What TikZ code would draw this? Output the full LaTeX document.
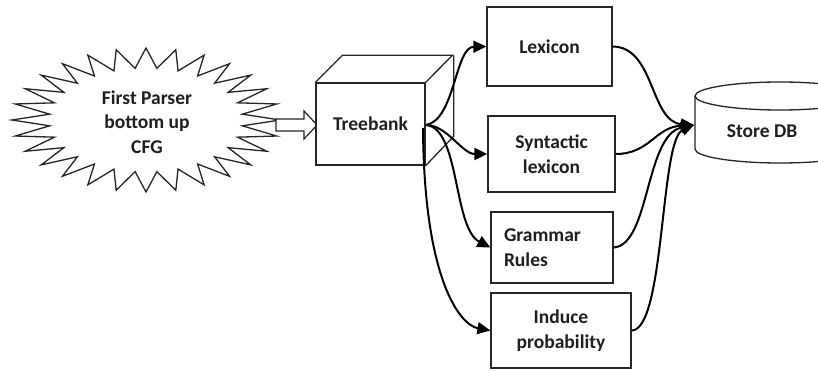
\documentclass[tikz,border=0pt]{standalone}
\usepackage{fontspec}
\setmainfont{Carlito}
\usetikzlibrary{arrows.meta}
\begin{document}
\begin{tikzpicture}[x=1pt,y=-1pt,
  txt/.style={font=\bfseries\fontsize{19.5}{24.5}\selectfont, text=black!88},
  boxnode/.style={draw=black!85, line width=1.3pt, fill=white, align=center, inner sep=0pt, txt},
  thin/.style={draw=black!85, line width=1.3pt},
  flow/.style={line width=2pt, -{Triangle[length=13pt,width=12pt]}},
  flowin/.style={line width=2pt, -{Triangle[length=13pt,width=11pt]}}
]
\useasboundingbox (0,0) rectangle (818,371);
\clip (0,0) rectangle (818,371);
\fill[white] (0,0) rectangle (818,371);

% starburst
\begin{scope}[shift={(146,120)}]
\draw[thin, line join=miter] (134,0)
  \foreach \i in {1,...,55} { -- ({cos(\i*45/7)*(134-37*mod(\i,2))}, {sin(\i*45/7)*(72-20*mod(\i,2))}) } -- cycle;
\end{scope}
\node[txt, align=center] (sb) at (147,122) {First Parser\\bottom up\\CFG};

% hollow arrow
\draw[thin, line width=1.2pt, fill=white] (276,119) -- (304,119) -- (304,111) -- (317,125) -- (304,139) -- (304,131) -- (276,131) -- cycle;

% treebank cube
\node[boxnode, minimum width=109pt, minimum height=82pt] (tb) at (370.5,124) {Treebank};
\draw[thin, line join=miter] (tb.north west) -- ++(27,-27) -- ++(110,0) -- (tb.north east);
\draw[thin, line join=miter] (tb.north east) ++(28,-27) -- ++(0,81) -- (tb.south east);

% boxes
\node[boxnode, minimum width=125pt, minimum height=79pt] (lex) at (549.5,46.5) {Lexicon};
\node[boxnode, minimum width=127pt, minimum height=76pt] (syn) at (551.5,154) {Syntactic\\lexicon};
\node[boxnode, minimum width=122pt, minimum height=71pt, text width=96pt, align=left, inner xsep=13pt] (gr) at (552,247.5) {Grammar\\Rules};
\node[boxnode, minimum width=140pt, minimum height=75pt] (ind) at (561,330.5) {Induce\\probability};

% database cylinder
\draw[thin, fill=white] (695,96) -- (695,149) arc[start angle=180, end angle=360, x radius=85, y radius=-14] -- (865,96);
\draw[thin] (780,96) ellipse [x radius=85, y radius=14];
\node[txt] (db) at (762,131) {Store DB};
\coordinate (dbin) at (694,125);

% flows from treebank
\coordinate (tbo) at (426,125);
\draw[flow] (tbo) .. controls (455,120) and (455,47) .. (lex.west);
\draw[flow] (tbo) .. controls (447,125) and (462,154) .. (syn.west);
\draw[flow] (tbo) .. controls (460,128) and (453,228) .. (gr.west);
\draw[flow] (423,128) .. controls (424,280) and (460,325) .. (ind.west);

% flows to db
\draw[flowin] (lex.east) .. controls (655,47) and (650,122) .. (dbin);
\draw[flowin] (syn.east) .. controls (650,154) and (655,127) .. (dbin);
\draw[flowin] (gr.east) .. controls (650,245) and (645,135) .. (dbin);
\draw[flowin] (ind.east) .. controls (665,330) and (660,140) .. (dbin);
\end{tikzpicture}
\end{document}
